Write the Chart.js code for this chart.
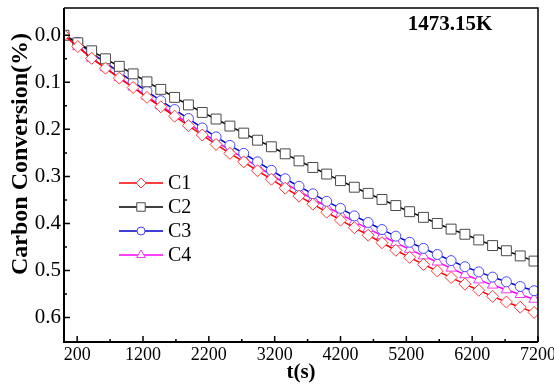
<!DOCTYPE html>
<html>
<head>
<meta charset="utf-8">
<script src="https://cdn.jsdelivr.net/npm/chart.js@4/dist/chart.umd.min.js"></script>
<style>
  html, body { margin: 0; padding: 0; background: #fff; }
  #wrap { width: 554px; height: 386px; position: relative; }
</style>
</head>
<body>
<div id="wrap"><canvas id="myChart"></canvas></div>
<script>
// sample times (s) - markers every 210 s, last point at 7200 has no marker
const times = [0, 210, 420, 630, 840, 1050, 1260, 1470, 1680, 1890, 2100, 2310, 2520, 2730, 2940, 3150, 3360, 3570,
  3780, 3990, 4200, 4410, 4620, 4830, 5040, 5250, 5460, 5670, 5880, 6090, 6300, 6510, 6720, 6930, 7140, 7200]

const c1 = [0.000, 0.024, 0.049, 0.070, 0.091, 0.111, 0.132, 0.152, 0.172, 0.192, 0.212, 0.232, 0.251, 0.269, 0.288, 0.306, 0.325, 0.342,
  0.359, 0.376, 0.393, 0.409, 0.425, 0.441, 0.457, 0.472, 0.487, 0.501, 0.515, 0.529, 0.542, 0.555, 0.567, 0.578, 0.589, 0.592]
const c2 = [0.000, 0.016, 0.033, 0.050, 0.066, 0.082, 0.099, 0.115, 0.132, 0.148, 0.164, 0.178, 0.193, 0.208, 0.223, 0.237, 0.252, 0.267,
  0.281, 0.295, 0.309, 0.323, 0.336, 0.349, 0.362, 0.375, 0.387, 0.400, 0.412, 0.423, 0.435, 0.447, 0.458, 0.469, 0.480, 0.483]
const c3 = [0.000, 0.015, 0.038, 0.058, 0.079, 0.099, 0.119, 0.139, 0.158, 0.177, 0.197, 0.216, 0.234, 0.251, 0.269, 0.287, 0.305, 0.321,
  0.337, 0.353, 0.368, 0.384, 0.398, 0.413, 0.427, 0.440, 0.453, 0.466, 0.479, 0.492, 0.503, 0.514, 0.524, 0.534, 0.543, 0.546]
const c4 = [0.000, 0.024, 0.049, 0.069, 0.090, 0.110, 0.130, 0.150, 0.168, 0.187, 0.207, 0.226, 0.244, 0.261, 0.279, 0.297, 0.315, 0.332,
  0.348, 0.364, 0.380, 0.396, 0.411, 0.426, 0.441, 0.455, 0.469, 0.482, 0.495, 0.509, 0.520, 0.531, 0.541, 0.551, 0.561, 0.564]

const seriesNames = ['C1', 'C2', 'C3', 'C4']
const xTicks = [200, 1200, 2200, 3200, 4200, 5200, 6200, 7200]
const xMinor = [700, 1700, 2700, 3700, 4700, 5700, 6700]
const yTicks = [0.0, 0.1, 0.2, 0.3, 0.4, 0.5, 0.6]
const yMinor = [0.05, 0.15, 0.25, 0.35, 0.45, 0.55]
const tempLabel = '1473.15K'
const xTitle = 't(s)'
const yTitle = 'Carbon Conversion(%)'

const serif = "'Liberation Serif', 'Times New Roman', serif"

const toPts = (arr) => arr.map((v, i) => ({x: times[i], y: v}))
const lastIdx = times.length - 1

function makeSet(label, values, line, mark, style, radius) {
    return {
        label: label,
        data: toPts(values),
        borderColor: line,
        borderWidth: 1.5,
        pointStyle: style,
        pointBorderColor: mark,
        pointBackgroundColor: '#fff',
        pointBorderWidth: 1,
        pointRadius: (ctx) => ctx.dataIndex === lastIdx ? 0 : radius,
        pointHoverRadius: radius,
        tension: 0,
        fill: false
    }
}

const datasets = [
    makeSet(seriesNames[0], c1, '#ff0000', '#ff3a3a', 'rectRot', 6),
    makeSet(seriesNames[1], c2, '#000000', '#4a4a4a', 'rect', 7),
    makeSet(seriesNames[2], c3, '#0000c8', '#4646ff', 'circle', 5),
    makeSet(seriesNames[3], c4, '#ff00ff', '#e83ce8', 'triangle', 6)
]

// frame, inward ticks, legend, annotations
const decorPlugin = {
    id: 'decor',
    afterDraw(chart) {
        const ctx = chart.ctx
        const a = chart.chartArea
        const xs = chart.scales.x
        const ys = chart.scales.y
        ctx.save()
        ctx.strokeStyle = '#000'
        // top / right frame
        ctx.lineWidth = 1.5
        ctx.beginPath()
        ctx.moveTo(a.left, a.top)
        ctx.lineTo(a.right, a.top)
        ctx.lineTo(a.right, a.bottom)
        ctx.stroke()
        // left / bottom axis
        ctx.lineWidth = 2
        ctx.beginPath()
        ctx.moveTo(a.left, a.top)
        ctx.lineTo(a.left, a.bottom)
        ctx.lineTo(a.right, a.bottom)
        ctx.stroke()
        // ticks
        ctx.lineWidth = 1.5
        ctx.beginPath()
        xTicks.forEach(v => { const p = xs.getPixelForValue(v); ctx.moveTo(p, a.bottom); ctx.lineTo(p, a.bottom - 6) })
        xMinor.forEach(v => { const p = xs.getPixelForValue(v); ctx.moveTo(p, a.bottom); ctx.lineTo(p, a.bottom - 3) })
        yTicks.forEach(v => { const p = ys.getPixelForValue(v); ctx.moveTo(a.left, p); ctx.lineTo(a.left + 6, p) })
        yMinor.forEach(v => { const p = ys.getPixelForValue(v); ctx.moveTo(a.left, p); ctx.lineTo(a.left + 3, p) })
        ctx.stroke()

        // y title
        ctx.fillStyle = '#000'
        ctx.font = 'bold 24px ' + serif
        ctx.textAlign = 'center'
        ctx.textBaseline = 'middle'
        ctx.translate(21, 154)
        ctx.rotate(-Math.PI / 2)
        ctx.fillText(yTitle, 0, 0)
        ctx.restore()

        ctx.save()
        ctx.fillStyle = '#000'
        ctx.font = 'bold 21px ' + serif
        ctx.textAlign = 'center'
        ctx.textBaseline = 'middle'
        ctx.fillText(tempLabel, 450, 25)

        // legend
        const rowY = [183, 207, 231, 255]
        chart.data.datasets.forEach((ds, i) => {
            const y = rowY[i]
            ctx.strokeStyle = ds.borderColor
            ctx.lineWidth = 1.5
            ctx.beginPath()
            ctx.moveTo(119, y)
            ctx.lineTo(163, y)
            ctx.stroke()
            ctx.fillStyle = '#fff'
            ctx.strokeStyle = ds.pointBorderColor
            ctx.lineWidth = 1
            Chart.helpers.drawPoint(ctx, {pointStyle: ds.pointStyle, radius: ds.pointHoverRadius - 1, rotation: 0, borderWidth: 1}, 141, y)
            ctx.fillStyle = '#000'
            ctx.font = '20px ' + serif
            ctx.textAlign = 'left'
            ctx.fillText(ds.label, 168, y + 1)
        })
        ctx.restore()
    }
}

const myChart = new Chart(document.getElementById('myChart').getContext('2d'), {
    type: 'line',
    data: { datasets: datasets },
    options: {
        responsive: true,
        maintainAspectRatio: false,
        animation: false,
        layout: { padding: { top: 4, right: 16, left: 0, bottom: 0 } },
        plugins: {
            legend: { display: false },
            tooltip: { enabled: false },
            title: { display: false }
        },
        scales: {
            x: {
                type: 'linear',
                min: 0,
                max: 7200,
                grid: { display: false, drawTicks: false },
                border: { display: false },
                afterBuildTicks: (s) => { s.ticks = xTicks.map(v => ({value: v})) },
                afterFit: (s) => { s.height = 44; s.paddingLeft = 0; s.paddingRight = 0 },
                ticks: {
                    color: '#000',
                    padding: 2,
                    maxRotation: 0,
                    autoSkip: false,
                    font: { family: serif, size: 18 },
                    callback: (v) => String(v)
                },
                title: {
                    display: true,
                    text: xTitle,
                    color: '#000',
                    font: { family: serif, size: 21, weight: 'bold' },
                    padding: { top: 0, bottom: 1 }
                }
            },
            y: {
                type: 'linear',
                reverse: true,
                min: -0.058,
                max: 0.652,
                grid: { display: false, drawTicks: false },
                border: { display: false },
                afterBuildTicks: (s) => { s.ticks = yTicks.map(v => ({value: v})) },
                afterFit: (s) => { s.width = 64; s.paddingTop = 0; s.paddingBottom = 0 },
                ticks: {
                    color: '#000',
                    padding: 3,
                    autoSkip: false,
                    font: { family: serif, size: 21 },
                    callback: (v) => Number(v).toFixed(1)
                }
            }
        }
    },
    plugins: [decorPlugin]
});
</script>
</body>
</html>
